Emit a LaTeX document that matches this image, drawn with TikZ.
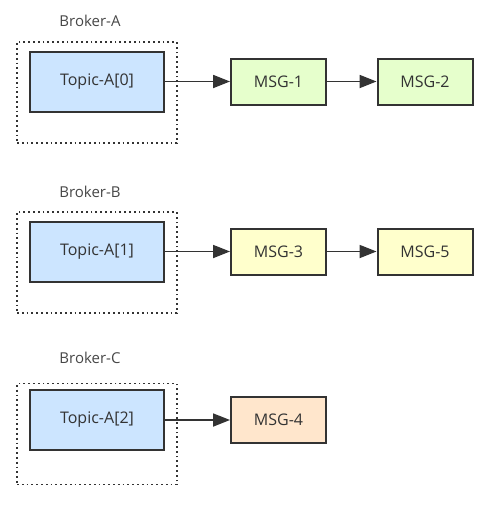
\documentclass[tikz,border=0pt]{standalone}
\usepackage{fontspec}
\setmainfont{Open Sans}
\usetikzlibrary{arrows.meta}
\definecolor{topicfill}{HTML}{CCE5FF}
\definecolor{greenfill}{HTML}{E6FFCC}
\definecolor{yellowfill}{HTML}{FFFFCC}
\definecolor{orangefill}{HTML}{FFE6CC}
\definecolor{edge}{HTML}{333333}
\begin{document}
\begin{tikzpicture}[x=1pt,y=-1pt,
  topicbox/.style={draw=edge,line width=2pt,fill=topicfill,minimum width=134pt,minimum height=60pt,inner sep=0pt,font=\fontsize{16}{18}\selectfont,text=edge},
  msgbox/.style={draw=edge,line width=2pt,minimum width=95pt,minimum height=46pt,inner sep=0pt,font=\fontsize{16}{18}\selectfont,text=edge},
  brokerbox/.style={draw=edge,line width=1.8pt,dash pattern=on 1.8pt off 3pt,minimum width=160pt,minimum height=101pt,inner sep=0pt},
  brokerlabel/.style={font=\fontsize{15}{17}\selectfont,text=edge!90},
  conn/.style={draw=edge,line width=1.8pt,-{Triangle[length=17pt,width=13pt]}}]
\useasboundingbox (0,0) rectangle (499,509);
% Broker A
\node[brokerbox] (bA) at (97,92.5) {};
\node[brokerlabel] (lA) at (90,21) {Broker-A};
\node[topicbox] (tA) at (97,81.5) {Topic-A[0]};
\node[msgbox,fill=greenfill] (m1) at (278.5,81.5) {MSG-1};
\node[msgbox,fill=greenfill] (m2) at (425,81.5) {MSG-2};
\draw[conn] (tA) -- (m1);
\draw[conn] (m1) -- (m2);
% Broker B
\node[brokerbox] (bB) at (97,262.5) {};
\node[brokerlabel] (lB) at (90,192) {Broker-B};
\node[topicbox] (tB) at (97,251.5) {Topic-A[1]};
\node[msgbox,fill=yellowfill] (m3) at (278.5,251.5) {MSG-3};
\node[msgbox,fill=yellowfill] (m5) at (425,251.5) {MSG-5};
\draw[conn] (tB) -- (m3);
\draw[conn] (m3) -- (m5);
% Broker C
\node[brokerbox] (bC) at (97,434) {};
\node[brokerlabel] (lC) at (90,358) {Broker-C};
\node[topicbox] (tC) at (97,420) {Topic-A[2]};
\node[msgbox,fill=orangefill] (m4) at (278.5,420) {MSG-4};
\draw[conn] (tC) -- (m4);
\end{tikzpicture}
\end{document}
